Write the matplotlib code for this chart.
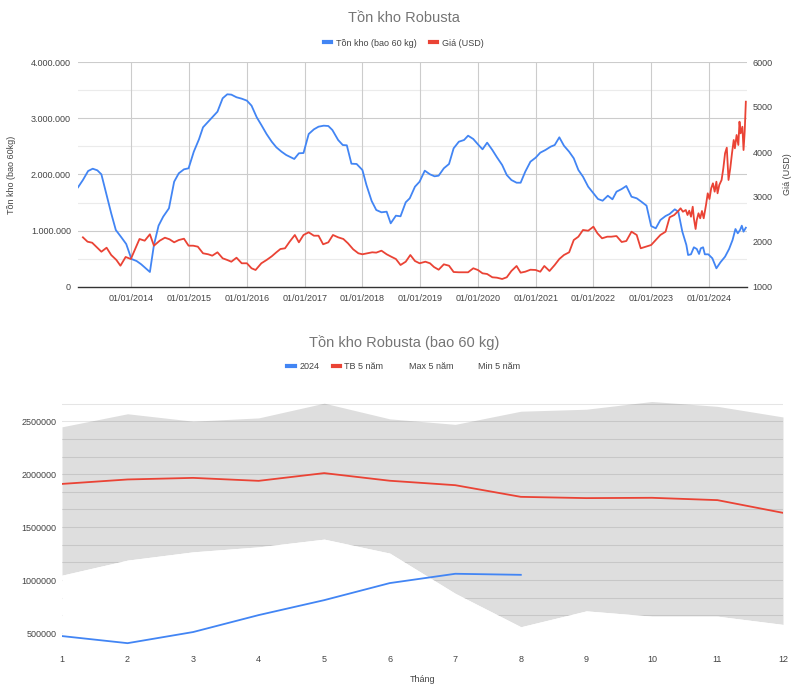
import matplotlib
matplotlib.use("Agg")
import matplotlib.pyplot as plt
from matplotlib.ticker import FuncFormatter
from matplotlib.lines import Line2D
import numpy as np

plt.rcParams['font.family'] = ['Liberation Sans', 'DejaVu Sans']

# ---------------- Top chart data ----------------
stock_t = [2013.075, 2013.16, 2013.25, 2013.33, 2013.41, 2013.48, 2013.57, 2013.65, 2013.73, 2013.83,
           2013.91, 2014.0, 2014.09, 2014.17, 2014.26, 2014.32, 2014.39, 2014.47, 2014.55, 2014.65,
           2014.74, 2014.82, 2014.91, 2014.99, 2015.08, 2015.17, 2015.24, 2015.33, 2015.41, 2015.49,
           2015.58, 2015.66, 2015.73, 2015.82, 2015.91, 2016.0, 2016.08, 2016.17, 2016.25, 2016.34,
           2016.43, 2016.51, 2016.6, 2016.68, 2016.82, 2016.9, 2016.98, 2017.07, 2017.16, 2017.24,
           2017.33, 2017.41, 2017.48, 2017.58, 2017.66, 2017.73, 2017.81, 2017.9, 2018.0, 2018.07,
           2018.16, 2018.24, 2018.33, 2018.42, 2018.49, 2018.58, 2018.66, 2018.75, 2018.82, 2018.91,
           2018.99, 2019.08, 2019.17, 2019.25, 2019.32, 2019.41, 2019.5, 2019.58, 2019.67, 2019.76,
           2019.83, 2019.92, 2020.0, 2020.08, 2020.16, 2020.25, 2020.33, 2020.42, 2020.5, 2020.58,
           2020.67, 2020.74, 2020.82, 2020.91, 2021.0, 2021.08, 2021.17, 2021.26, 2021.33, 2021.41,
           2021.49, 2021.58, 2021.66, 2021.74, 2021.82, 2021.91, 2022.0, 2022.08, 2022.16, 2022.25,
           2022.33, 2022.4, 2022.49, 2022.57, 2022.66, 2022.75, 2022.83, 2022.92, 2023.0, 2023.08,
           2023.16, 2023.25, 2023.32, 2023.41, 2023.47, 2023.54, 2023.61, 2023.64, 2023.69, 2023.74,
           2023.79, 2023.83, 2023.86, 2023.9, 2023.93, 2023.99, 2024.06, 2024.13, 2024.2, 2024.28,
           2024.35, 2024.41, 2024.46, 2024.5, 2024.54, 2024.57, 2024.6, 2024.64]
stock_v = [1772000, 1902000, 2062000, 2103000, 2074000, 2003000, 1636000, 1310000, 1013000, 877000,
           764000, 498000, 462000, 403000, 320000, 267000, 747000, 1090000, 1250000, 1399000,
           1872000, 2021000, 2092000, 2110000, 2405000, 2626000, 2839000, 2939000, 3028000, 3117000,
           3355000, 3426000, 3420000, 3373000, 3348000, 3313000, 3224000, 3017000, 2880000, 2720000,
           2583000, 2483000, 2405000, 2347000, 2276000, 2377000, 2382000, 2720000, 2803000, 2850000,
           2868000, 2862000, 2791000, 2613000, 2524000, 2519000, 2192000, 2187000, 2080000, 1813000,
           1529000, 1369000, 1328000, 1339000, 1132000, 1268000, 1257000, 1506000, 1577000, 1783000,
           1872000, 2068000, 2003000, 1968000, 1979000, 2110000, 2187000, 2466000, 2583000, 2613000,
           2690000, 2631000, 2537000, 2448000, 2566000, 2436000, 2306000, 2169000, 1991000, 1902000,
           1854000, 1854000, 2050000, 2228000, 2299000, 2388000, 2436000, 2495000, 2524000, 2661000,
           2512000, 2405000, 2288000, 2080000, 1961000, 1783000, 1666000, 1564000, 1534000, 1623000,
           1559000, 1694000, 1742000, 1796000, 1605000, 1577000, 1517000, 1446000, 1084000, 1043000,
           1191000, 1262000, 1298000, 1381000, 1339000, 984000, 747000, 569000, 581000, 706000,
           676000, 587000, 688000, 706000, 581000, 581000, 510000, 332000, 439000, 539000,
           676000, 836000, 1031000, 955000, 1013000, 1090000, 984000, 1054000]

price_t = [2013.16, 2013.24, 2013.32, 2013.48, 2013.57, 2013.65, 2013.74, 2013.81, 2013.9, 2013.99,
           2014.07, 2014.14, 2014.23, 2014.32, 2014.39, 2014.49, 2014.58, 2014.66, 2014.74, 2014.82,
           2014.91, 2014.99, 2015.07, 2015.15, 2015.24, 2015.33, 2015.4, 2015.49, 2015.58, 2015.66,
           2015.73, 2015.82, 2015.91, 2016.0, 2016.08, 2016.15, 2016.25, 2016.34, 2016.43, 2016.51,
           2016.58, 2016.66, 2016.74, 2016.83, 2016.9, 2016.98, 2017.07, 2017.16, 2017.24, 2017.32,
           2017.41, 2017.49, 2017.58, 2017.67, 2017.75, 2017.84, 2017.93, 2018.0, 2018.09, 2018.17,
           2018.24, 2018.33, 2018.42, 2018.5, 2018.58, 2018.66, 2018.75, 2018.83, 2018.91, 2018.99,
           2019.09, 2019.17, 2019.24, 2019.32, 2019.41, 2019.5, 2019.58, 2019.67, 2019.76, 2019.83,
           2019.92, 2020.0, 2020.08, 2020.16, 2020.25, 2020.33, 2020.42, 2020.5, 2020.58, 2020.67,
           2020.74, 2020.82, 2020.91, 2021.0, 2021.08, 2021.15, 2021.24, 2021.33, 2021.41, 2021.49,
           2021.58, 2021.66, 2021.74, 2021.82, 2021.91, 2022.0, 2022.07, 2022.15, 2022.24, 2022.31,
           2022.4, 2022.49, 2022.57, 2022.66, 2022.75, 2022.82, 2022.91, 2023.0, 2023.08, 2023.16,
           2023.25, 2023.32, 2023.4, 2023.47, 2023.51, 2023.55, 2023.6, 2023.63, 2023.66, 2023.69,
           2023.72, 2023.74, 2023.77, 2023.79, 2023.82, 2023.85, 2023.88, 2023.91, 2023.95, 2023.98,
           2024.01, 2024.04, 2024.07, 2024.1, 2024.13, 2024.15, 2024.18, 2024.22, 2024.25, 2024.28,
           2024.31, 2024.34, 2024.37, 2024.4, 2024.43, 2024.45, 2024.48, 2024.51, 2024.53, 2024.55,
           2024.58, 2024.6, 2024.62, 2024.64]
price_v = [2104, 2007, 1984, 1784, 1873, 1711, 1600, 1473, 1667, 1622,
           1860, 2067, 2029, 2171, 1918, 2029, 2096, 2060, 1993, 2044,
           2073, 1918, 1918, 1896, 1749, 1727, 1696, 1771, 1638, 1600,
           1562, 1651, 1527, 1527, 1416, 1378, 1527, 1600, 1682, 1771,
           1844, 1860, 2007, 2156, 1993, 2156, 2215, 2140, 2140, 1949,
           1993, 2156, 2104, 2067, 1971, 1838, 1749, 1727, 1749, 1771,
           1764, 1807, 1727, 1673, 1622, 1489, 1562, 1711, 1578, 1527,
           1562, 1527, 1444, 1384, 1504, 1473, 1333, 1327, 1327, 1327,
           1416, 1378, 1304, 1289, 1216, 1207, 1178, 1216, 1356, 1467,
           1318, 1340, 1384, 1378, 1340, 1467, 1356, 1489, 1622, 1711,
           1771, 2044, 2118, 2267, 2251, 2340, 2193, 2082, 2118, 2118,
           2133, 2000, 2022, 2229, 2156, 1860, 1896, 1933, 2044, 2156,
           2229, 2549, 2600, 2689, 2749, 2673, 2711, 2600, 2696, 2562,
           2784, 2527, 2289, 2489, 2638, 2527, 2689, 2527, 2822, 3082,
           2956, 3193, 3304, 3118, 3340, 3082, 3267, 3378, 3637, 3971,
           4096, 3378, 3637, 3971, 4267, 4082, 4378, 4156, 4673, 4415,
           4562, 4044, 4451, 5118]

year_ticks = list(range(2014, 2025))
year_labels = [f"01/01/{y}" for y in year_ticks]

# ---------------- Bottom chart data ----------------
months = list(range(1, 13))
inv_2024 = [472000, 405000, 510000, 670000, 811000, 972000, 1060000, 1050000]
avg_5y = [1908000, 1950000, 1965000, 1937000, 2010000, 1938000, 1896000, 1786000,
          1774000, 1777000, 1755000, 1635000]
max_5y = [2447000, 2570000, 2500000, 2531000, 2670000, 2522000, 2470000, 2594000,
          2613000, 2686000, 2640000, 2540000]
min_5y = [1047000, 1189000, 1267000, 1314000, 1387000, 1255000, 875000, 560000,
          710000, 660000, 660000, 582000]

BLUE = '#4285F4'
RED = '#EA4335'
TXT = '#444444'
TITLE = '#757575'
LW = 1.3

fig = plt.figure(figsize=(8, 7), dpi=100)

# ================= TOP CHART =================
ax1 = fig.add_axes([78 / 800, 1 - 287 / 700, 669 / 800, 225 / 700])
ax1.set_xlim(2013.075, 2024.66)
ax1.set_ylim(0, 4000000)
ax1.set_yticks([0, 1000000, 2000000, 3000000, 4000000])
ax1.yaxis.set_major_formatter(FuncFormatter(lambda v, p: f"{int(v):,}".replace(",", ".")))
for v in [500000, 1500000, 2500000, 3500000]:
    ax1.axhline(v, color='#ebebeb', lw=0.8, zorder=0)
for v in [1000000, 2000000, 3000000, 4000000]:
    ax1.axhline(v, color='#cccccc', lw=0.8, zorder=0)
for t in year_ticks:
    ax1.axvline(t, color='#cccccc', lw=0.8, zorder=0)
ax1.set_xticks(year_ticks)
ax1.set_xticklabels(year_labels)
ax1.plot(stock_t, stock_v, color=BLUE, lw=LW, zorder=3)
for s in ['top', 'right', 'left']:
    ax1.spines[s].set_visible(False)
ax1.spines['bottom'].set_color('#333333')
ax1.spines['bottom'].set_linewidth(1.0)
ax1.tick_params(length=0, labelsize=6.5, colors=TXT, pad=5)
ax1.set_ylabel("Tồn kho (bao 60kg)", fontsize=6.5, color=TXT)
ax1.yaxis.set_label_coords(-0.093, 0.5)

ax2 = ax1.twinx()
ax2.set_ylim(1000, 6000)
ax2.set_yticks([1000, 2000, 3000, 4000, 5000, 6000])
ax2.plot(price_t, price_v, color=RED, lw=LW, zorder=3)
for s in ['top', 'right', 'left', 'bottom']:
    ax2.spines[s].set_visible(False)
ax2.tick_params(length=0, labelsize=6.5, colors=TXT, pad=4)
ax2.set_ylabel("Giá (USD)", fontsize=6.5, color=TXT)
ax2.yaxis.set_label_coords(1.054, 0.5)

fig.text(0.505, 1 - 18 / 700, "Tồn kho Robusta", ha='center', va='center',
         fontsize=10.5, color=TITLE)
h1 = [Line2D([], [], color=BLUE, lw=3), Line2D([], [], color=RED, lw=3)]
fig.legend(h1, ["Tồn kho (bao 60 kg)", "Giá (USD)"], loc='center',
           bbox_to_anchor=(0.505, 1 - 43 / 700), ncol=2, frameon=False, fontsize=6.5,
           handlelength=0.8, handletextpad=0.5, columnspacing=1.5, labelcolor=TXT)

# ================= BOTTOM CHART =================
ax3 = fig.add_axes([62 / 800, 1 - 649 / 700, 721 / 800, 249 / 700])
ylo, yhi = 350000, 2700000
ax3.set_xlim(1, 12)
ax3.set_ylim(ylo, yhi)
ax3.fill_between(months, min_5y, max_5y, color='#dedede', lw=0, zorder=0)
for k in range(3, 17):
    ax3.axhline(k * 500000 / 3, color='black', alpha=0.1, lw=0.8, zorder=1)
ax3.fill_between(months, [ylo] * 12, min_5y, color='white', lw=0, zorder=1.5)
ax3.plot(months, avg_5y, color=RED, lw=LW, zorder=3)
ax3.plot(months[:len(inv_2024)], inv_2024, color=BLUE, lw=LW, zorder=3)
ax3.set_xticks(months)
ax3.set_yticks([500000, 1000000, 1500000, 2000000, 2500000])
ax3.yaxis.set_major_formatter(FuncFormatter(lambda v, p: f"{int(v)}"))
for s in ['top', 'right', 'left', 'bottom']:
    ax3.spines[s].set_visible(False)
ax3.tick_params(length=0, labelsize=6.5, colors=TXT, pad=4)
ax3.set_xlabel("Tháng", fontsize=6.5, color=TXT, labelpad=8)

fig.text(0.505, 1 - 343 / 700, "Tồn kho Robusta (bao 60 kg)", ha='center', va='center',
         fontsize=10.5, color=TITLE)
h2 = [Line2D([], [], color=BLUE, lw=3), Line2D([], [], color=RED, lw=3),
      Line2D([], [], color='none', lw=3), Line2D([], [], color='none', lw=3)]
fig.legend(h2, ["2024", "TB 5 năm", "Max 5 năm", "Min 5 năm"], loc='center',
           bbox_to_anchor=(0.505, 1 - 367 / 700), ncol=4, frameon=False, fontsize=6.5,
           handlelength=0.8, handletextpad=0.5, columnspacing=1.5, labelcolor=TXT)

fig.savefig("out.png", dpi=100)
